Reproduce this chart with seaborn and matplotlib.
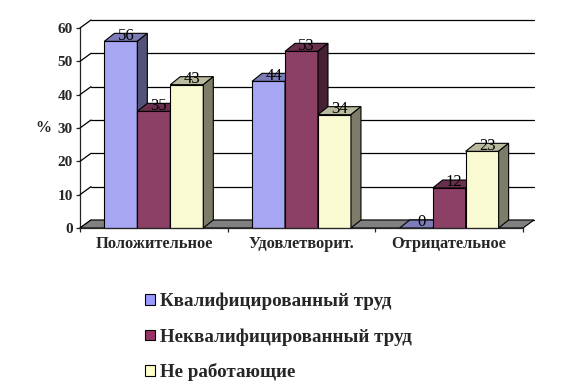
"""
3D-style grouped bar chart (Excel look) recreated with seaborn + matplotlib
"""

import pandas as pd
import numpy as np
import matplotlib
matplotlib.use('Agg')
import matplotlib.pyplot as plt
import seaborn as sns
from matplotlib.patches import Polygon, Patch
from matplotlib.colors import to_rgb

categories = ['Положительное', 'Удовлетворит.', 'Отрицательное']
series = ['Квалифицированный труд', 'Неквалифицированный труд', 'Не работающие']
qualified = [56, 44, 0]
unqualified = [35, 53, 12]
not_working = [43, 34, 23]
y_ticks = [0, 10, 20, 30, 40, 50, 60]

front_colors = ['#9999FF', '#993366', '#FFFFCC']

sns.set_style('white')
plt.rcParams['font.family'] = ['Liberation Serif', 'DejaVu Serif']

df = pd.DataFrame({
    'category': categories * 3,
    'series': [s for s in series for _ in categories],
    'value': qualified + unqualified + not_working,
})

W, H = 564, 391
fig = plt.figure(figsize=(W / 100, H / 100), dpi=100)
x_left, x_right, y_bot, y_top = 80, 523, 228, 28
ax = fig.add_axes([x_left / W, 1 - y_bot / H, (x_right - x_left) / W, (y_bot - y_top) / H])

sns.barplot(data=df, x='category', y='value', hue='series', palette=front_colors,
            width=0.67, edgecolor='black', linewidth=0.8, legend=False, ax=ax)
ax.set_xlim(-0.5, 2.5)
ax.set_ylim(0, 60)

bars = [p for p in ax.patches]

# pixel -> data conversions for the fake depth
px_x = 3.0 / (x_right - x_left)
px_y = 60.0 / (y_bot - y_top)
wall_dx, wall_dy = 11 * px_x, 8 * px_y
bar_dx, bar_dy = 10 * px_x, 8 * px_y

# back wall gridlines + left wall diagonals
for v in y_ticks:
    ax.plot([-0.5 + wall_dx, 2.5 + wall_dx], [v + wall_dy, v + wall_dy],
            color='black', lw=0.9, zorder=1, clip_on=False)
    ax.plot([-0.5, -0.5 + wall_dx], [v, v + wall_dy],
            color='black', lw=0.9, zorder=1, clip_on=False)

# floor
floor = Polygon([(-0.5, 0), (2.5, 0), (2.5 + wall_dx, wall_dy), (-0.5 + wall_dx, wall_dy)],
                closed=True, facecolor='#808080', edgecolor='black', lw=0.8,
                zorder=1.5, clip_on=False)
ax.add_patch(floor)

# sides, tops and labels of the bars
for p in sorted(bars, key=lambda r: r.get_x()):
    x0, w, h = p.get_x(), p.get_width(), p.get_height()
    base = np.array(to_rgb(p.get_facecolor()))
    z = 2 + x0 * 0.01
    p.set_zorder(z)
    p.set_clip_on(False)
    top = Polygon([(x0, h), (x0 + w, h), (x0 + w + bar_dx, h + bar_dy), (x0 + bar_dx, h + bar_dy)],
                  closed=True, facecolor=base * 0.75, edgecolor='black', lw=0.8,
                  zorder=z, clip_on=False)
    side = Polygon([(x0 + w, 0), (x0 + w + bar_dx, bar_dy), (x0 + w + bar_dx, h + bar_dy), (x0 + w, h)],
                   closed=True, facecolor=base * 0.5, edgecolor='black', lw=0.8,
                   zorder=z, clip_on=False)
    ax.add_patch(top)
    ax.add_patch(side)
    ax.text(x0 + w / 2 + bar_dx / 2, h + bar_dy * 0.7, f'{h:.0f}',
            ha='center', va='center', fontsize=12, color='black', zorder=10)

# axes cosmetics
for s in ['top', 'right']:
    ax.spines[s].set_visible(False)
ax.spines['left'].set_linewidth(0.9)
ax.spines['bottom'].set_linewidth(0.9)
ax.spines['left'].set_zorder(0.5)
ax.set_yticks(y_ticks)
ax.set_yticklabels([str(t) for t in y_ticks], fontsize=11, fontweight='bold')
ax.tick_params(axis='y', direction='out', length=3, width=0.9, pad=2, left=True)
ax.set_xticks(range(len(categories)))
ax.set_xticklabels(categories, fontsize=11.8, fontweight='bold')
ax.set_xticks([-0.5, 0.5, 1.5, 2.5], minor=True)
ax.tick_params(axis='x', which='major', length=0, pad=6)
ax.tick_params(axis='x', which='minor', direction='out', length=3, width=0.9, bottom=True)
ax.set_xlabel('')
ax.set_ylabel('%', rotation=0, fontsize=11.5, fontweight='bold', labelpad=10, va='center')
ax.grid(False)
ax.patch.set_alpha(0)

handles = [Patch(facecolor=c, edgecolor='black', lw=0.8) for c in front_colors]
fig.legend(handles, series, loc='upper left', bbox_to_anchor=(145 / W, 1 - 293 / H),
           frameon=False, borderpad=0, borderaxespad=0,
           handlelength=0.5, handleheight=0.5, handletextpad=0.28,
           labelspacing=0.93, prop={'family': 'Liberation Serif', 'weight': 'bold', 'size': 13.7})

fig.savefig('out.png', dpi=100)
